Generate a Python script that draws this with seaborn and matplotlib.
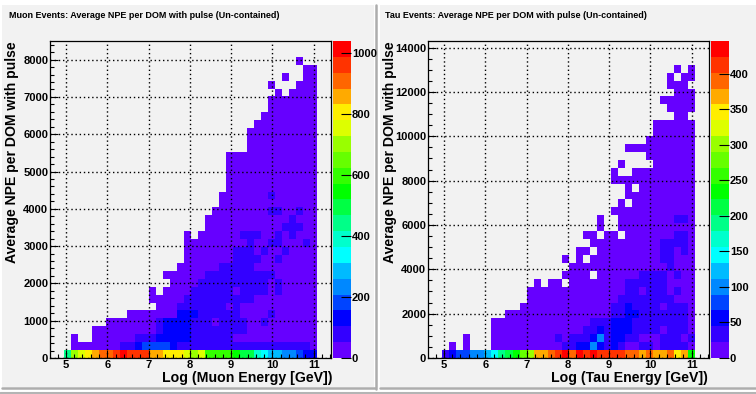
import matplotlib
matplotlib.use("Agg")
import matplotlib.pyplot as plt
import numpy as np
import seaborn as sns
from matplotlib.colors import ListedColormap
from matplotlib.patches import Rectangle

W, H = 756, 394

# level of each cell, bottom row first, "." = empty, 1-9 then a-k = 10-20
MUON_ROWS = [
    "..9efghiij kjjjhhgggf efccccbaa8 76655433..",
    "...1111111 2234444322 2222222222 22222221..",
    "...1..1111 1122233333 2222221111 11111111..",
    "......1111 1111123333 2222222211 11111111..",
    "........11 1111123333 2221222211 21111111..",
    ".......... .111111133 3222222111 12111111..",
    ".......... .....11122 2222212111 11111111..",
    ".......... ....111112 2222222221 11111111..",
    ".......... ....1.1111 2222221222 21211111..",
    ".......... .......111 1222222222 21211111..",
    ".......... ......1111 1122222222 22111111..",
    ".......... ........11 1111222221 11111111..",
    ".......... .........1 1111112222 11211111..",
    ".......... .........1 1111112221 21121111..",
    ".......... .........1 1111111121 12211121..",
    ".......... .........1 .111111222 11212111..",
    ".......... .......... ..11111111 11122211..",
    ".......... .......... ..11111111 11112111..",
    ".......... .......... ...1111111 12211211..",
    ".......... .......... ....111111 11111111..",
    ".......... .......... ....111111 12111111..",
    ".......... .......... .....11111 11111111..",
    ".......... .......... .....11111 11111111..",
    ".......... .......... .....11111 11111111..",
    ".......... .......... .....11111 11111111..",
    ".......... .......... .....11111 11111111..",
    ".......... .......... ........11 11111111..",
    ".......... .......... ........11 11111111..",
    ".......... .......... ........11 11111111..",
    ".......... .......... .........1 11111111..",
    ".......... .......... .......... 11111111..",
    ".......... .......... .......... .1111111..",
    ".......... .......... .......... .1111111..",
    ".......... .......... .......... ..1.1111..",
    ".......... .......... .......... .1...111..",
    ".......... .......... .......... ...1..11..",
    ".......... .......... .......... ......11..",
    ".......... .......... .......... .....1....",
    ".......... .......... .......... ..........",
    ".......... .......... .......... ..........",
]

TAU_ROWS = [
    "..23445567 9abdehhijk ikjkjjjjii hihhighb..",
    "...1.1...1 1111111112 2335323211 22122221..",
    ".....1...1 1111111121 2223523322 11122212..",
    ".........1 1111111111 1122323332 22212221..",
    ".........1 1111111111 1112223332 22222221..",
    ".......... .111111111 1111112233 22222221..",
    ".......... ...1111111 1111112232 22212221..",
    ".......... ....111111 1111111222 22222111..",
    ".......... ....111111 1111111122 12221211..",
    ".......... .....1.11. 1111111122 22221111..",
    ".......... .........1 111.111111 22221211..",
    ".......... .......... 1111111111 11112111..",
    ".......... .........1 .1.1111111 11122111..",
    ".......... .......... .11.111111 11122121..",
    ".......... .......... ...1111111 11122221..",
    ".......... .......... ..11.11.11 11111221..",
    ".......... .......... ....1..111 11111111..",
    ".......... .......... ....1..111 11111221..",
    ".......... .......... ......1111 11111111..",
    ".......... .......... .......1.1 11111111..",
    ".......... .......... ........11 11111111..",
    ".......... .......... ........1. 11111111..",
    ".......... .......... ......1111 11111111..",
    ".......... .......... ......1..1 11111111..",
    ".......... .......... .......1.. ..111111..",
    ".......... .......... .......... .1111111..",
    ".......... .......... ........11 11111111..",
    ".......... .......... .......... .1111111..",
    ".......... .......... .......... ..111111..",
    ".......... .......... .......... ..111111..",
    ".......... .......... .......... .....11...",
    ".......... .......... .......... ....1111..",
    ".......... .......... .......... ...11111..",
    ".......... .......... .......... .....111..",
    ".......... .......... .......... ....111...",
    ".......... .......... .......... ....1.11..",
    ".......... .......... .......... .....1.1..",
    ".......... .......... .......... ..........",
    ".......... .......... .......... ..........",
    ".......... .......... .......... ..........",
]

LEVEL_COLORS = [
    "#6600ff", "#3300ff", "#0000ff", "#0044ff", "#0088ff", "#00bbff", "#00ffff",
    "#00ffcc", "#00ff88", "#00ff44", "#00ff00", "#33ff00", "#66ff00", "#99ff00",
    "#ddff00", "#ffee00", "#ffaa00", "#ff6600", "#ff3300", "#ff0000",
]
LEVELS = "123456789abcdefghijk"

X_RANGE = (4.62, 11.42)
X_TICKS = [5, 6, 7, 8, 9, 10, 11]

MUON_YMAX = 8500
MUON_YTICKS = [0, 1000, 2000, 3000, 4000, 5000, 6000, 7000, 8000]
MUON_YMINOR = 200
MUON_ZMAX = 1041
MUON_ZTICKS = [0, 200, 400, 600, 800, 1000]

TAU_YMAX = 14300
TAU_YTICKS = [0, 2000, 4000, 6000, 8000, 10000, 12000, 14000]
TAU_YMINOR = 500
TAU_ZMAX = 446
TAU_ZTICKS = [0, 50, 100, 150, 200, 250, 300, 350, 400]

PANEL_BG = "#f2f2f2"
FONT = "Liberation Sans"

sns.set_theme(style="white")
plt.rcParams["font.family"] = [FONT, "DejaVu Sans"]
plt.rcParams["font.weight"] = "bold"


def rows_to_matrix(rows, zmax):
    mat = np.full((40, 40), np.nan)
    step = zmax / len(LEVELS)
    for j, row in enumerate(rows):
        for i, ch in enumerate(row.replace(" ", "")):
            if ch != ".":
                mat[j, i] = (LEVELS.index(ch) + 0.5) * step
    return mat


def px_rect(x0, y0, x1, y1):
    return [x0 / W, 1 - y1 / H, (x1 - x0) / W, (y1 - y0) / H]


def fig_line(fig, xs, ys, col, lw):
    fig.add_artist(plt.Line2D([v / W for v in xs], [1 - v / H for v in ys], color=col, lw=lw,
                              transform=fig.transFigure, zorder=-4))


def draw_frame(fig, x0, y0, x1, y1):
    fig.add_artist(Rectangle((x0 / W, 1 - y1 / H), (x1 - x0) / W, (y1 - y0) / H, transform=fig.transFigure,
                             facecolor=PANEL_BG, edgecolor="none", zorder=-5))
    fig_line(fig, (x0, x1), (y1 + 1, y1 + 1), "#adadad", 1.8)
    fig_line(fig, (x1 + 1, x1 + 1), (y0, y1 + 2), "#adadad", 1.8)


def draw_panel(fig, left, shift, title, xlabel, rows, ymax, yticks, yminor, zmax, zticks):
    ax = fig.add_axes(px_rect(left + 50.3, 41, left + 331, 358))
    cax = fig.add_axes(px_rect(left + 333, 41, left + 350.5, 358))
    mat = rows_to_matrix(rows, zmax)
    cmap = ListedColormap(LEVEL_COLORS)
    sns.heatmap(mat, ax=ax, cbar_ax=cax, cmap=cmap, vmin=0, vmax=zmax, mask=np.isnan(mat),
                xticklabels=False, yticklabels=False)
    ax.set_facecolor(PANEL_BG)
    ax.set_xlim(0, 40)
    ax.set_ylim(0, 40)

    # bins are plotted by index, so ticks go through the same conversion
    x0, x1 = X_RANGE
    to_x = lambda v: (v - x0) / (x1 - x0) * 40
    to_y = lambda v: v / ymax * 40
    ax.set_xticks([to_x(v) for v in X_TICKS])
    ax.set_xticklabels([str(v) for v in X_TICKS])
    ax.set_yticks([to_y(v) for v in yticks])
    ax.set_yticklabels([str(v) for v in yticks])
    ax.set_xticks([to_x(v) for v in np.arange(4.8, 11.41, 0.2)], minor=True)
    ax.set_yticks([to_y(v) for v in np.arange(0, ymax, yminor)], minor=True)
    ax.tick_params(which="major", direction="in", length=5.8, width=0.8, color="black", labelsize=8,
                   labelcolor="black", pad=1.5, bottom=True, left=True)
    ax.tick_params(which="minor", direction="in", length=2.9, width=0.8, color="black", bottom=True, left=True)
    ax.set_axisbelow(False)
    ax.grid(True, which="major", color="black", linestyle=(0, (1, 2)), linewidth=1)
    for s in ax.spines.values():
        s.set_visible(True)
        s.set_color("black")
        s.set_linewidth(0.9)

    cbar = ax.collections[0].colorbar
    cbar.set_ticks(zticks)
    cbar.set_ticklabels([str(v) for v in zticks])
    cax.set_axisbelow(False)
    cax.tick_params(which="major", direction="in", length=7, width=0.8, color="black", labelsize=8,
                    labelcolor="black", pad=1, right=True)
    cax.minorticks_off()
    cbar.outline.set_visible(False)

    fig.text((left + 9.3 + shift) / W, 1 - 16 / H, title, fontsize=6.45, fontweight="bold", color="black",
             va="center", ha="left")
    fig.text((left + 332 + shift) / W, 1 - 378 / H, xlabel, fontsize=10.2, fontweight="bold", color="black",
             va="center", ha="right")
    fig.text((left + 12) / W, 1 - 41 / H, "Average NPE per DOM with pulse", fontsize=10.1, fontweight="bold",
             color="black", rotation=90, va="top", ha="center")


fig = plt.figure(figsize=(W / 100, H / 100), dpi=100, facecolor="#ffffff")
draw_frame(fig, 2, 4.5, 374.5, 387)
draw_frame(fig, 379.5, 4.5, 756, 387)
fig_line(fig, (0, W), (393, 393), "#b4b4b4", 2.2)
draw_panel(fig, 0, 0, "Muon Events: Average NPE per DOM with pulse (Un-contained)", "Log (Muon Energy [GeV])",
           MUON_ROWS, MUON_YMAX, MUON_YTICKS, MUON_YMINOR, MUON_ZMAX, MUON_ZTICKS)
draw_panel(fig, 378, -2, "Tau Events: Average NPE per DOM with pulse (Un-contained)", "Log (Tau Energy [GeV])",
           TAU_ROWS, TAU_YMAX, TAU_YTICKS, TAU_YMINOR, TAU_ZMAX, TAU_ZTICKS)
fig.savefig("out.png", dpi=100, facecolor=fig.get_facecolor())
